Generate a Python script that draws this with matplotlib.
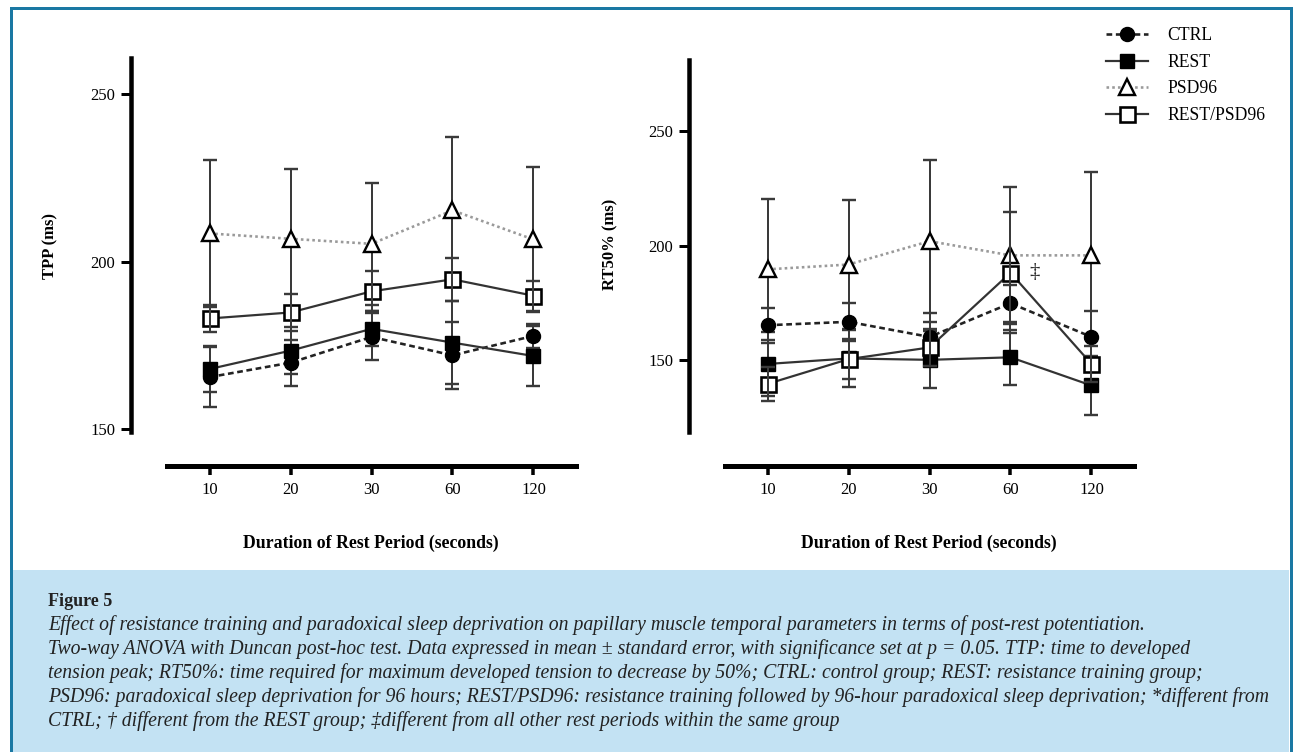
import numpy as np
import matplotlib
matplotlib.use("Agg")
import matplotlib.pyplot as plt
from matplotlib.patches import Rectangle

W, H = 1297, 752
SERIF = ["Liberation Serif", "DejaVu Serif"]
plt.rcParams["font.family"] = SERIF

# rest periods (seconds) shown as evenly spaced categories
durations = ["10", "20", "30", "60", "120"]
series_names = ["CTRL", "REST", "PSD96", "REST/PSD96"]

# TPP (ms): mean and standard error
tpp_ctrl = [165.5, 169.8, 177.5, 172.0, 177.8]
tpp_ctrl_err = [9.0, 6.9, 7.0, 10.0, 3.6]
tpp_rest = [167.9, 173.4, 179.9, 175.8, 171.8]
tpp_rest_err = [7.0, 7.0, 5.2, 12.5, 9.0]
tpp_psd = [208.4, 206.8, 205.3, 215.3, 206.6]
tpp_psd_err = [22.0, 20.7, 18.3, 22.0, 21.6]
tpp_restpsd = [183.0, 184.8, 191.1, 194.7, 189.8]
tpp_restpsd_err = [4.1, 5.5, 6.0, 6.5, 4.5]

# RT50% (ms): mean and standard error
rt_ctrl = [165.2, 166.7, 160.1, 174.8, 160.1]
rt_ctrl_err = [7.7, 8.3, 10.3, 8.0, 11.3]
rt_rest = [148.3, 150.7, 150.1, 151.2, 138.9]
rt_rest_err = [14.0, 12.6, 12.4, 12.0, 13.0]
rt_psd = [189.6, 191.7, 201.9, 195.7, 195.7]
rt_psd_err = [30.7, 28.0, 35.5, 30.0, 36.6]
rt_restpsd = [139.6, 150.4, 155.5, 188.1, 148.3]
rt_restpsd_err = [7.3, 8.7, 8.0, 26.4, 8.0]

caption_title = "Figure 5"
caption_lines = [
    "Effect of resistance training and paradoxical sleep deprivation on papillary muscle temporal parameters in terms of post-rest potentiation.",
    "Two-way ANOVA with Duncan post-hoc test. Data expressed in mean ± standard error, with significance set at p = 0.05. TTP: time to developed",
    "tension peak; RT50%: time required for maximum developed tension to decrease by 50%; CTRL: control group; REST: resistance training group;",
    "PSD96: paradoxical sleep deprivation for 96 hours; REST/PSD96: resistance training followed by 96-hour paradoxical sleep deprivation; *different from",
    "CTRL; † different from the REST group; ‡different from all other rest periods within the same group",
]

PX = 72 / 100  # points per pixel at dpi 100
INK = "#2b2b2b"

styles = {
    "CTRL": dict(ls=(0, (2.2, 1.4)), lw=2.6 * PX, color="#222222", marker="o",
                 ms=14 * PX, mfc="black", mec="black", mew=1.0),
    "REST": dict(ls="-", lw=2.2 * PX, color="#333333", marker="s",
                 ms=13.5 * PX, mfc="black", mec="black", mew=1.0),
    "PSD96": dict(ls=(0, (1, 1.2)), lw=2.6 * PX, color="#9a9a9a", marker="^",
                  ms=16 * PX, mfc="white", mec="black", mew=2.4 * PX),
    "REST/PSD96": dict(ls="-", lw=2.2 * PX, color="#333333", marker="s",
                       ms=15 * PX, mfc="white", mec="black", mew=2.6 * PX),
}


def px_box(left, top, right, bottom):
    return [left / W, 1 - bottom / H, (right - left) / W, (bottom - top) / H]


def draw_panel(ax, data, ylim, yticks):
    x = np.arange(len(durations))
    handles = []
    for name, (vals, errs) in zip(series_names, data):
        st = styles[name]
        ez = 4 if name == "REST/PSD96" else 2
        ax.errorbar(x, vals, yerr=errs, fmt="none", ecolor="#3a3a3a",
                    elinewidth=2.0 * PX, capsize=7 * PX, capthick=2.4 * PX, zorder=ez)
        h, = ax.plot(x, vals, zorder=3, label=name, **st)
        handles.append(h)

    ax.set_xlim(-0.97, 4.55)
    ax.set_ylim(*ylim)
    ax.set_xticks(x)
    ax.set_xticklabels(durations)
    ax.set_yticks(yticks)
    for s in ("top", "right"):
        ax.spines[s].set_visible(False)
    ax.spines["left"].set_linewidth(4.5 * PX)
    ax.spines["bottom"].set_linewidth(5 * PX)
    ax.spines["bottom"].set_position(("outward", 34 * PX))
    ax.spines["bottom"].set_bounds(-0.53, 4.52)
    ax.tick_params(axis="y", direction="out", length=10 * PX, width=3 * PX,
                   labelsize=12, pad=4, colors="black")
    ax.tick_params(axis="x", direction="out", length=9 * PX, width=3.5 * PX,
                   labelsize=12, pad=5, colors="black")
    ax.patch.set_alpha(0)
    return handles


fig = plt.figure(figsize=(W / 100, H / 100), dpi=100)

# page frame and caption panel
fig.patches.append(Rectangle((12 / W, 0), (1289 - 12) / W, (752 - 570) / H,
                             transform=fig.transFigure, facecolor="#c3e2f3",
                             edgecolor="none", zorder=0))
fig.patches.append(Rectangle((10.5 / W, -10 / H), 1280 / W, (762 - 7.5) / H,
                             transform=fig.transFigure, fill=False,
                             edgecolor="#1a78a3", lw=3 * PX, zorder=1))

ax1 = fig.add_axes(px_box(131, 58, 578, 432))
ax2 = fig.add_axes(px_box(689, 59.5, 1136, 432))

draw_panel(ax1, [(tpp_ctrl, tpp_ctrl_err), (tpp_rest, tpp_rest_err),
                 (tpp_psd, tpp_psd_err), (tpp_restpsd, tpp_restpsd_err)],
           (149.1, 260.8), [150, 200, 250])
handles = draw_panel(ax2, [(rt_ctrl, rt_ctrl_err), (rt_rest, rt_rest_err),
                           (rt_psd, rt_psd_err), (rt_restpsd, rt_restpsd_err)],
                     (118.6, 281.2), [150, 200, 250])

ax2.text(3.3, 188.3, "‡", fontsize=15, ha="center", va="center", color=INK)

# axis titles
fig.text(50 / W, 1 - 246 / H, "TPP (ms)", rotation=90, ha="center", va="center",
         fontsize=12, fontweight="bold")
fig.text(610 / W, 1 - 244 / H, "RT50% (ms)", rotation=90, ha="center", va="center",
         fontsize=12, fontweight="bold")
fig.text(371 / W, 1 - 543 / H, "Duration of Rest Period (seconds)", ha="center",
         va="center", fontsize=12.8, fontweight="bold")
fig.text(929 / W, 1 - 543 / H, "Duration of Rest Period (seconds)", ha="center",
         va="center", fontsize=12.8, fontweight="bold")

ax2.legend(handles=handles, loc="upper left", bbox_to_anchor=(1106 / W, 1 - 27 / H),
           bbox_transform=fig.transFigure, frameon=False, borderpad=0,
           borderaxespad=0, handlelength=2.4, handletextpad=1.1,
           labelspacing=0.55, fontsize=12.7)

# caption
fig.text(48 / W, 1 - 602 / H, caption_title, ha="left", va="center",
         fontsize=13, fontweight="bold", color="#222222")
texts = []
for i, line in enumerate(caption_lines):
    t = fig.text(48 / W, 1 - (625 + 23.9 * i) / H, line, ha="left", va="center",
                 fontsize=12, style="italic", color="#222222")
    texts.append(t)

# fit caption font so the longest line spans the same width as the source
fig.canvas.draw()
r = fig.canvas.get_renderer()
widest = max(t.get_window_extent(r).width for t in texts)
size = 12 * (1224 / widest)
for t in texts:
    t.set_fontsize(size)

fig.savefig("out.png", dpi=100, facecolor="white")
